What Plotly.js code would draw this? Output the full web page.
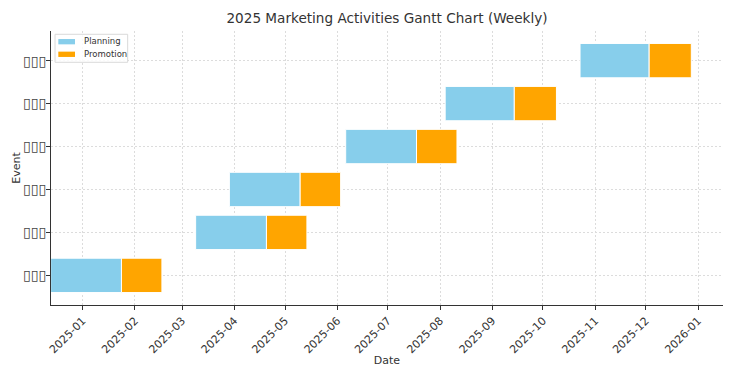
<!DOCTYPE html>
<html>
<head>
<meta charset="utf-8">
<script src="https://cdn.plot.ly/plotly-3.0.1.min.js"></script>
<style>html,body{margin:0;padding:0;background:#fff;}#chart{width:740px;height:367px;}</style>
</head>
<body>
<div id="chart"></div>
<script>
// Event labels (rendered as missing-glyph boxes in the reference)
const events = ["▯▯▯", "▯▯▯", "▯▯▯", "▯▯▯", "▯▯▯", "▯▯▯"];
const planningStart = ["2024-12-13", "2025-03-09", "2025-03-29", "2025-06-06", "2025-08-04", "2025-10-23"];
const planningEnd   = ["2025-01-24", "2025-04-20", "2025-05-10", "2025-07-18", "2025-09-14", "2025-12-03"];
const promotionEnd  = ["2025-02-17", "2025-05-14", "2025-06-03", "2025-08-11", "2025-10-09", "2025-12-28"];
const seriesNames = ["Planning", "Promotion"];
const seriesColors = ["#87CEEB", "#FFA500"];
const monthTickFormat = "%Y-%m";

const rows = events.map((_, i) => i);
const dur = (a, b) => Date.parse(b) - Date.parse(a);

const traces = [
  {
    type: "bar", orientation: "h", name: seriesNames[0],
    y: rows, base: planningStart,
    x: planningStart.map((s, i) => dur(s, planningEnd[i])),
    width: 0.8,
    marker: {color: seriesColors[0], line: {color: "#ffffff", width: 1}},
    hoverinfo: "skip", showlegend: false
  },
  {
    type: "bar", orientation: "h", name: seriesNames[1],
    y: rows, base: planningEnd,
    x: planningEnd.map((s, i) => dur(s, promotionEnd[i])),
    width: 0.8,
    marker: {color: seriesColors[1], line: {color: "#ffffff", width: 1}},
    hoverinfo: "skip", showlegend: false
  }
];

// Compact matplotlib-style legend drawn in paper coordinates
const shapes = [
  {type: "rect", xref: "paper", yref: "paper", x0: 0.006, x1: 0.1141, y0: 0.8858, y1: 0.988,
   line: {color: "#d9d9d9", width: 1}, fillcolor: "rgba(255,255,255,0.85)", layer: "above"}
];
const annotations = [];
const legendRowY = [0.961, 0.915];
seriesNames.forEach((name, i) => {
  shapes.push({type: "rect", xref: "paper", yref: "paper", x0: 0.0109, x1: 0.0357,
               y0: legendRowY[i] - 0.0097, y1: legendRowY[i] + 0.0097,
               line: {width: 0}, fillcolor: seriesColors[i], layer: "above"});
  annotations.push({xref: "paper", yref: "paper", x: 0.0466, y: legendRowY[i] + 0.002,
                    xanchor: "left", yanchor: "middle", text: name, showarrow: false,
                    font: {size: 8.5, color: "#333333"}});
});

const layout = {
  width: 740, height: 367,
  margin: {l: 51, r: 17, t: 31, b: 62, pad: 0},
  paper_bgcolor: "#ffffff", plot_bgcolor: "#ffffff",
  font: {family: "DejaVu Sans, sans-serif", color: "#333333", size: 11},
  barmode: "overlay",
  showlegend: false,
  title: {text: "2025 Marketing Activities Gantt Chart (Weekly)", x: 0.523, xanchor: "center", y: 0.95, yanchor: "middle",
          font: {size: 13.6, color: "#333333"}},
  shapes: shapes,
  annotations: annotations,
  xaxis: {
    type: "date",
    range: ["2024-12-13 05:00", "2026-01-15 19:00"],
    tick0: "2025-01-01", dtick: "M1", tickformat: monthTickFormat,
    tickangle: -45, ticks: "outside", ticklen: 4, tickcolor: "#333333",
    tickfont: {size: 11, color: "#333333"},
    showline: true, linecolor: "#333333", linewidth: 1,
    showgrid: true, gridcolor: "#dcdcdc", griddash: "2px,2px", gridwidth: 1,
    zeroline: false,
    title: {text: "Date", font: {size: 11, color: "#333333"}, standoff: 1}
  },
  yaxis: {
    range: [-0.69, 5.69],
    tickmode: "array", tickvals: rows, ticktext: events,
    ticks: "outside", ticklen: 4, tickcolor: "#333333",
    tickfont: {family: "DejaVu Sans", size: 14, color: "#444444"},
    ticklabelstandoff: -3,
    showline: true, linecolor: "#333333", linewidth: 1,
    showgrid: true, gridcolor: "#dcdcdc", griddash: "2px,2px", gridwidth: 1,
    zeroline: false,
    title: {text: "Event", font: {size: 11, color: "#333333"}, standoff: 0}
  }
};

Plotly.newPlot("chart", traces, layout, {displayModeBar: false, staticPlot: true});
</script>
</body>
</html>
